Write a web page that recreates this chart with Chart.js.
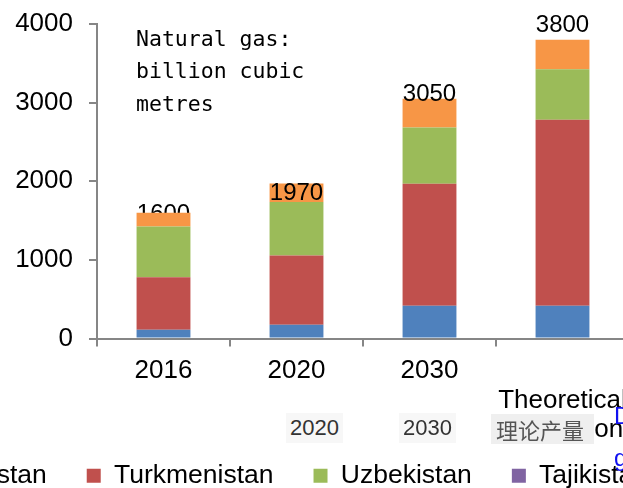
<!DOCTYPE html>
<html>
<head>
<meta charset="utf-8">
<script src="https://cdn.jsdelivr.net/npm/chart.js@4"></script>
<style>
  html, body { margin: 0; padding: 0; width: 623px; height: 488px; overflow: hidden; background: #fff; }
  body { position: relative; }
  #chart { position: absolute; left: -159px; top: 0; }
  .ghost {
    position: absolute; font-family: "Liberation Sans", Arial, sans-serif; font-size: 22px;
    color: #333; background: #f7f7f7; line-height: 30px; padding: 0 4px;
  }
  .ghost.cjk { font-family: "Noto Sans CJK SC", sans-serif; color: #555; background: #efefef; width: 94px; padding: 0 4px 0 5px; }
  .link { position: absolute; font-family: "Liberation Sans", Arial, sans-serif; font-size: 24px; color: #1010f0; line-height: 24px; }
</style>
</head>
<body>
<canvas id="chart" width="1300" height="499"></canvas>
<span class="ghost" style="left:286px; top:413px">2020</span>
<span class="ghost" style="left:399px; top:413px">2030</span>
<span class="ghost cjk" style="left:491px; top:414px">理论产量</span>
<span class="link" style="left:614px; top:404px">D</span>
<span class="link" style="left:614px; top:446px">g</span>
<script>
// categories
const years = ["2016", "2020", "2030", ["", "Theoretical", "production"]];

// natural gas, billion cubic metres
const kazakhstan = [110, 175, 415, 415];
const turkmenistan = [668, 880, 1553, 2366];
const uzbekistan = [648, 682, 715, 644];
const tajikistan = [0, 0, 0, 0];
const kyrgyzstan = [0, 0, 0, 0];
const others = [174, 233, 367, 375];
const totals = [1600, 1970, 3050, 3800];

const font = "'Liberation Sans', Arial, sans-serif";
const axisGrey = "#868686";

// total labels above the bars (the first one sits behind its bar in the original)
const totalLabels = {
  id: "totalLabels",
  beforeDatasetsDraw(chart, args, opts) {
    drawTotals(chart, opts, true);
  },
  afterDatasetsDraw(chart, args, opts) {
    drawTotals(chart, opts, false);
  },
};

function drawTotals(chart, opts, behind) {
  const ctx = chart.ctx;
  ctx.save();
  ctx.font = "24px " + font;
  ctx.fillStyle = "#000";
  ctx.textAlign = "center";
  ctx.textBaseline = "alphabetic";
  totals.forEach((t, i) => {
    if (!!opts.behind[i] !== behind) return;
    const x = chart.scales.x.getPixelForValue(i);
    const y = chart.scales.y.getPixelForValue(t);
    ctx.fillText(String(t), x, y + opts.dy[i]);
  });
  ctx.restore();
}

// unit note in the top left of the plot
const unitNote = {
  id: "unitNote",
  afterDraw(chart) {
    const ctx = chart.ctx;
    const { left, top } = chart.chartArea;
    ctx.save();
    ctx.font = "21.5px 'DejaVu Sans Mono', monospace";
    ctx.fillStyle = "#000";
    ctx.textBaseline = "alphabetic";
    ["Natural gas:", "billion cubic", "metres"].forEach((line, i) => {
      ctx.fillText(line, left + 39, top + 22 + i * 32.3);
    });
    ctx.restore();
  },
};

new Chart(document.getElementById("chart"), {
  type: "bar",
  data: {
    labels: years,
    datasets: [
      { label: "Kazakhstan", data: kazakhstan, backgroundColor: "#4F81BD" },
      { label: "Turkmenistan", data: turkmenistan, backgroundColor: "#C0504D" },
      { label: "Uzbekistan", data: uzbekistan, backgroundColor: "#9BBB59" },
      { label: "Tajikistan", data: tajikistan, backgroundColor: "#8064A2" },
      { label: "Kyrgyzstan", data: kyrgyzstan, backgroundColor: "#4BACC6" },
      { label: "Others", data: others, backgroundColor: "#F79646" },
    ],
  },
  options: {
    responsive: false,
    animation: false,
    layout: { padding: { top: 24, left: 0, right: 0, bottom: 0 } },
    datasets: {
      bar: { categoryPercentage: 1, barPercentage: 0.405, borderWidth: 0 },
    },
    scales: {
      x: {
        stacked: true,
        grid: { offset: true, drawOnChartArea: false, tickLength: 8, color: axisGrey, lineWidth: 2 },
        border: { color: axisGrey, width: 2 },
        ticks: { color: "#000", font: { family: font, size: 26, lineHeight: 1.15 }, padding: 9, maxRotation: 0, autoSkip: false },
        afterFit: (s) => {
          s.height = 84;
          // let the three-line label run past the axis box instead of being clipped
          s._computeLabelArea = () => undefined;
        },
      },
      y: {
        stacked: true,
        min: 0,
        max: 4000,
        grid: { drawOnChartArea: false, tickLength: 8, color: axisGrey, lineWidth: 2 },
        border: { color: axisGrey, width: 2 },
        ticks: { stepSize: 1000, color: "#000", font: { family: font, size: 26 }, padding: 16, callback: (v) => String(v) },
        afterFit: (s) => {
          s.width = 256;
          s.paddingTop = 0;
          s.paddingBottom = 0;
        },
      },
      // empty spacer so the wide legend keeps one row
      pad: {
        position: "right",
        grid: { display: false },
        border: { display: false },
        ticks: { display: false },
        afterFit: (s) => {
          s.width = 512;
        },
      },
    },
    plugins: {
      legend: {
        position: "bottom",
        align: "start",
        labels: { boxWidth: 14, boxHeight: 14, padding: 40, color: "#000", font: { family: font, size: 26.5 } },
      },
      tooltip: { enabled: false },
      totalLabels: { dy: [8, 16, 2, -8], behind: [true, false, false, false] },
    },
  },
  plugins: [totalLabels, unitNote],
});
</script>
</body>
</html>
